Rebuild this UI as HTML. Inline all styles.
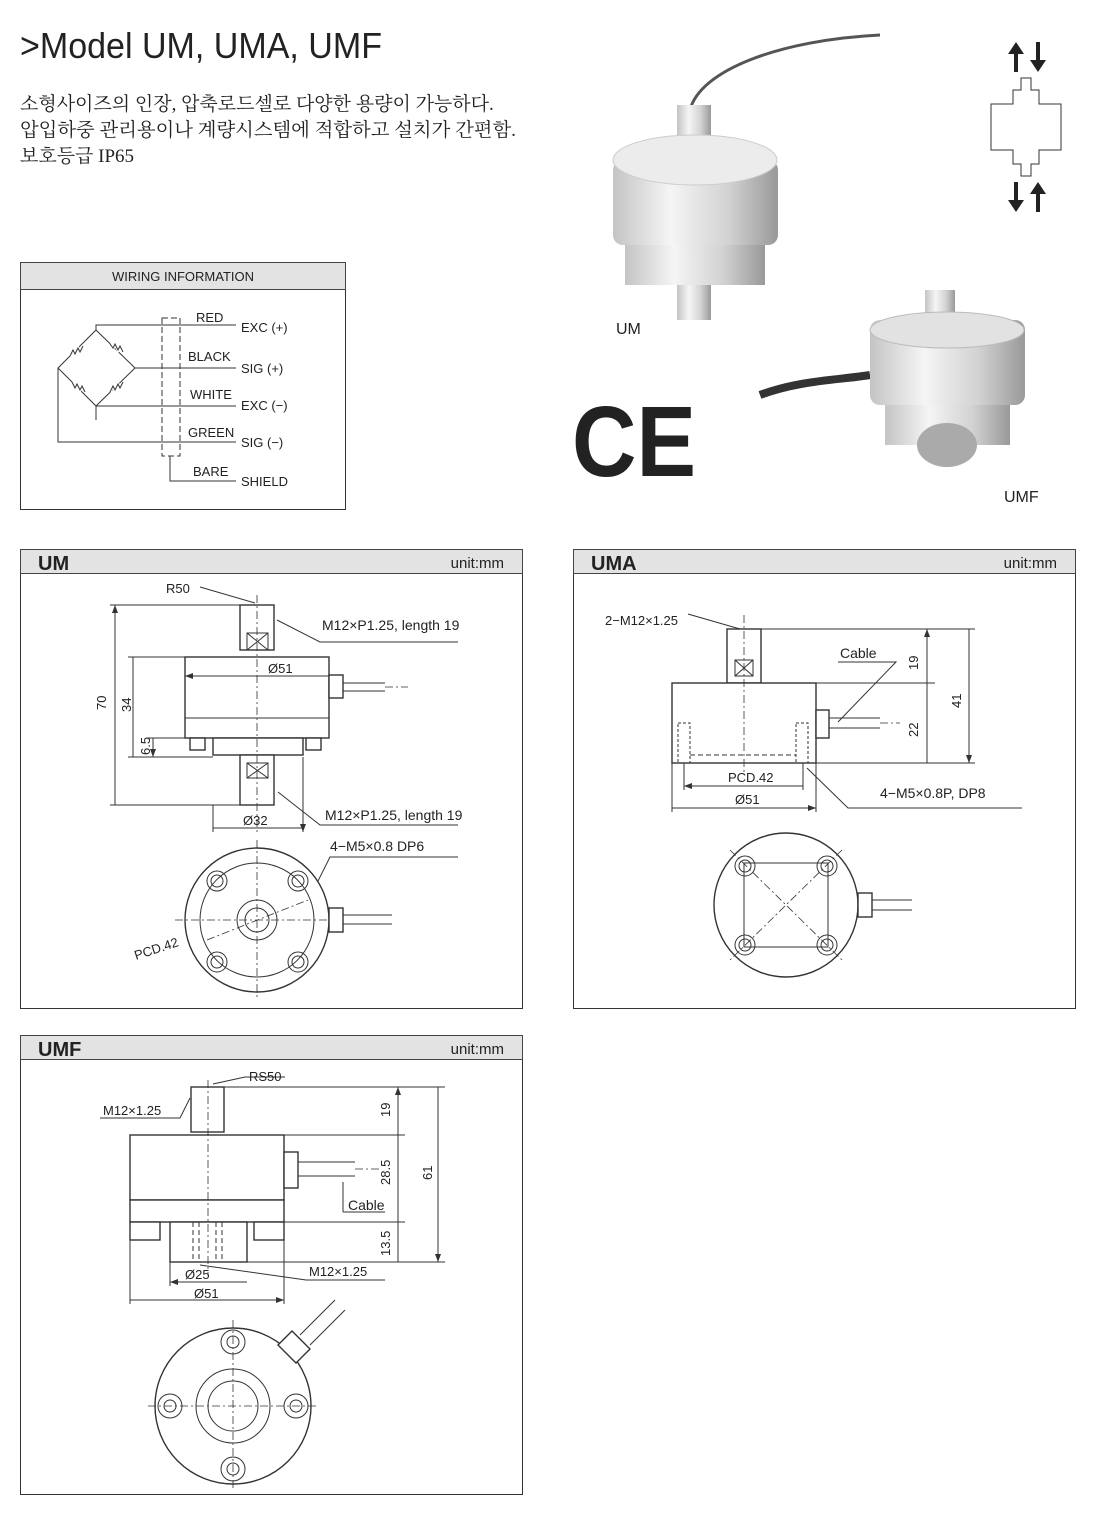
<!DOCTYPE html>
<html><head><meta charset="utf-8"><style>
html,body{margin:0;padding:0;background:#fff}
svg{display:block}
text{font-family:"Liberation Sans","Noto Sans CJK KR",sans-serif;fill:#222}
.k{font-family:"Liberation Serif","Noto Serif CJK SC",serif}
.s{font-size:13px}
.l{stroke:#333;stroke-width:1;fill:none}
.t{stroke:#333;stroke-width:1.4;fill:#fff}
.d{stroke:#333;stroke-width:0.8;stroke-dasharray:8 3 2 3;fill:none}
.hd{fill:#e3e3e3;stroke:#444}
</style></head><body>
<svg width="1103" height="1523" viewBox="0 0 1103 1523">
<defs>
<linearGradient id="m" x1="0" x2="1"><stop offset="0" stop-color="#c4c4c4"/><stop offset=".35" stop-color="#f5f5f5"/><stop offset=".7" stop-color="#d2d2d2"/><stop offset="1" stop-color="#999"/></linearGradient>
<marker id="a" markerWidth="8" markerHeight="6" refX="8" refY="3" orient="auto"><path d="M0,0L8,3L0,6z" fill="#333"/></marker>
<marker id="b" markerWidth="8" markerHeight="6" refX="0" refY="3" orient="auto"><path d="M8,0L0,3L8,6z" fill="#333"/></marker>
</defs>
<text x="20" y="58" font-size="36" textLength="362" lengthAdjust="spacingAndGlyphs">&gt;Model UM, UMA, UMF</text>
<text class="k" x="20" y="110" font-size="19">소형사이즈의 인장, 압축로드셀로 다양한 용량이 가능하다.</text>
<text class="k" x="20" y="136" font-size="19" textLength="496" lengthAdjust="spacingAndGlyphs">압입하중 관리용이나 계량시스템에 적합하고 설치가  간편함.</text>
<text class="k" x="20" y="162" font-size="19">보호등급 IP65</text>

<!-- photos -->
<path d="M690,110 C700,70 780,40 880,35" stroke="#555" stroke-width="3" fill="none"/>
<rect x="677" y="105" width="34" height="55" fill="url(#m)"/>
<rect x="613" y="160" width="165" height="85" rx="10" fill="url(#m)"/>
<ellipse cx="695" cy="160" rx="82" ry="25" fill="#ececec" stroke="#ccc"/>
<rect x="625" y="245" width="140" height="40" fill="url(#m)"/>
<rect x="677" y="285" width="34" height="35" fill="url(#m)"/>
<text x="616" y="334" font-size="16">UM</text>
<path d="M760,395 C800,380 840,380 870,375" stroke="#333" stroke-width="8" fill="none"/>
<rect x="925" y="290" width="30" height="30" fill="url(#m)"/>
<rect x="870" y="320" width="155" height="85" rx="10" fill="url(#m)"/>
<ellipse cx="947" cy="330" rx="77" ry="18" fill="#e2e2e2" stroke="#bbb"/>
<rect x="885" y="405" width="125" height="40" fill="url(#m)"/>
<ellipse cx="947" cy="445" rx="30" ry="22" fill="#aaa"/>
<text x="1004" y="502" font-size="16">UMF</text>
<text x="572" y="476" font-size="100" font-weight="bold" fill="#111" textLength="124" lengthAdjust="spacingAndGlyphs">CE</text>

<!-- arrows icon -->
<g fill="#222"><path d="M1016,42l-8,12h6v18h4v-18h6z"/><path d="M1038,72l-8,-12h6v-18h4v18h6z"/>
<path d="M1016,212l-8,-12h6v-18h4v18h6z"/><path d="M1038,182l-8,12h6v18h4v-18h6z"/></g>
<path d="M1021,78h10v12h8v14h22v46h-22v14h-8v12h-10v-12h-8v-14h-22v-46h22v-14h8z" class="l"/>

<!-- wiring -->
<rect x="20.5" y="262.5" width="325" height="247" class="l"/>
<rect x="20.5" y="262.5" width="325" height="27" class="hd"/>
<text x="183" y="281" font-size="13" text-anchor="middle">WIRING INFORMATION</text>
<path d="M96,330 L135,368 L96,406 L58,368 Z M96,330 L96,325 L162,325 M96,406 V420 M58,368 V442 H162 M135,368 H162 M96,406 H162" class="l"/>
<path d="M70,356l3,-6l2,4l3,-6l2,4l3,-6M110,344l3,4l2,-4l3,6l2,-4l3,6M72,382l3,6l2,-4l3,6l2,-4l3,6M110,392l3,-6l2,4l3,-6l2,4l3,-6" stroke="#fff" stroke-width="3" fill="none"/>
<path d="M70,356l3,-6l2,4l3,-6l2,4l3,-6M110,344l3,4l2,-4l3,6l2,-4l3,6M72,382l3,6l2,-4l3,6l2,-4l3,6M110,392l3,-6l2,4l3,-6l2,4l3,-6" class="l"/>
<rect x="162" y="318" width="18" height="138" class="l" stroke-dasharray="6 3"/>
<path d="M162,325H236M135,368H236M96,406H236M58,442H236M170,456V481H236" class="l"/>
<g class="s"><text x="196" y="322">RED</text><text x="188" y="361">BLACK</text><text x="190" y="399">WHITE</text><text x="188" y="437">GREEN</text><text x="193" y="476">BARE</text>
<text x="241" y="332">EXC (+)</text><text x="241" y="373">SIG (+)</text><text x="241" y="410">EXC (−)</text><text x="241" y="447">SIG (−)</text><text x="241" y="486">SHIELD</text></g>

<!-- UM -->
<rect x="20.5" y="549.5" width="502" height="459" class="l"/>
<rect x="20.5" y="549.5" width="502" height="24" class="hd"/>
<text x="38" y="570" font-size="20" font-weight="bold">UM</text>
<text x="504" y="568" font-size="15" text-anchor="end">unit:mm</text>
<rect x="240" y="605" width="34" height="45" class="t"/><rect x="247" y="633" width="21" height="17" class="l"/><path d="M247,633l21,17m0,-17l-21,17" class="l"/>
<rect x="185" y="657" width="144" height="81" class="t"/><path d="M185,718H329" class="l"/>
<rect x="213" y="738" width="90" height="17" class="t"/><rect x="190" y="738" width="15" height="12" class="t"/><rect x="306" y="738" width="15" height="12" class="t"/>
<rect x="240" y="755" width="34" height="50" class="t"/><rect x="247" y="763" width="21" height="15" class="l"/><path d="M247,763l21,15m0,-15l-21,15" class="l"/>
<path d="M257,595V835" class="d"/>
<rect x="329" y="675" width="14" height="23" class="t"/><path d="M343,683H385M343,691H385" class="l"/><path d="M385,687H408" class="d"/>
<path d="M115,605V805M133,657V757M153,738V757" class="l" marker-start="url(#b)" marker-end="url(#a)"/>
<path d="M110,605H240M128,657H185M128,757H213M110,805H240M148,738H190" class="l"/>
<path d="M185,676H329M213,828H303M213,805V832M303,757V832" class="l" marker-start="url(#b)" marker-end="url(#a)"/>
<text x="106" y="710" class="s" transform="rotate(-90 106 710)">70</text>
<text x="131" y="712" class="s" transform="rotate(-90 131 712)">34</text>
<text x="150" y="755" class="s" transform="rotate(-90 150 755)">6.5</text>
<text x="268" y="673" class="s">Ø51</text><text x="243" y="825" class="s">Ø32</text>
<path d="M200,587L255,603M277,620L320,642H458M278,792L320,825H458M312,893L330,857H458" class="l"/>
<text x="166" y="593" class="s">R50</text><text x="322" y="630" font-size="14">M12×P1.25, length 19</text>
<text x="325" y="820" font-size="14">M12×P1.25, length 19</text><text x="330" y="851" font-size="14">4−M5×0.8 DP6</text>
<circle cx="257" cy="920" r="72" class="t"/><circle cx="257" cy="920" r="57" class="l"/><circle cx="257" cy="920" r="20" class="l"/><circle cx="257" cy="920" r="12" class="l"/>
<g class="l"><circle cx="217" cy="881" r="10"/><circle cx="298" cy="881" r="10"/><circle cx="217" cy="962" r="10"/><circle cx="298" cy="962" r="10"/>
<circle cx="217" cy="881" r="6"/><circle cx="298" cy="881" r="6"/><circle cx="217" cy="962" r="6"/><circle cx="298" cy="962" r="6"/></g>
<path d="M257,840V1000M175,920H340M207,940L308,900" class="d"/>
<rect x="329" y="908" width="14" height="24" class="t"/><path d="M343,915H392M343,924H392" class="l"/>
<text x="136" y="960" class="s" transform="rotate(-18 136 960)">PCD.42</text>

<!-- UMA -->
<rect x="573.5" y="549.5" width="502" height="459" class="l"/>
<rect x="573.5" y="549.5" width="502" height="24" class="hd"/>
<text x="591" y="570" font-size="20" font-weight="bold">UMA</text>
<text x="1057" y="568" font-size="15" text-anchor="end">unit:mm</text>
<rect x="727" y="629" width="34" height="54" class="t"/><rect x="735" y="660" width="18" height="16" class="l"/><path d="M735,660l18,16m0,-16l-18,16" class="l"/>
<rect x="672" y="683" width="144" height="80" class="t"/>
<path d="M678,723h12v40h-12zM796,723h12v40h-12z" class="l" stroke-dasharray="3 2"/><path d="M690,755H796" class="l" stroke-dasharray="5 3"/>
<path d="M744,615V775" class="d"/>
<rect x="816" y="710" width="13" height="28" class="t"/><path d="M829,718H880M829,728H880" class="l"/><path d="M880,723H900" class="d"/>
<path d="M761,629H975M816,683H935M816,763H975" class="l"/>
<path d="M927,629V683M927,683V763M969,629V763" class="l" marker-start="url(#b)" marker-end="url(#a)"/>
<text x="918" y="670" class="s" transform="rotate(-90 918 670)">19</text>
<text x="918" y="737" class="s" transform="rotate(-90 918 737)">22</text>
<text x="961" y="708" class="s" transform="rotate(-90 961 708)">41</text>
<path d="M684,786H803M672,808H816" class="l" marker-start="url(#b)" marker-end="url(#a)"/>
<path d="M684,763V790M803,763V790M672,763V812M816,763V812" class="l"/>
<text x="728" y="782" class="s">PCD.42</text><text x="735" y="804" class="s">Ø51</text>
<path d="M688,614L740,629M838,662H896L838,722M807,768L848,808H1022" class="l"/>
<text x="605" y="625" class="s">2−M12×1.25</text><text x="840" y="658" font-size="14">Cable</text><text x="880" y="798" font-size="14">4−M5×0.8P, DP8</text>
<circle cx="786" cy="905" r="72" class="t"/><rect x="744" y="863" width="84" height="84" class="l"/>
<g class="l"><circle cx="745" cy="866" r="10"/><circle cx="827" cy="866" r="10"/><circle cx="745" cy="945" r="10"/><circle cx="827" cy="945" r="10"/>
<circle cx="745" cy="866" r="6"/><circle cx="827" cy="866" r="6"/><circle cx="745" cy="945" r="6"/><circle cx="827" cy="945" r="6"/></g>
<path d="M730,850L842,960M842,850L730,960" class="d"/>
<rect x="858" y="893" width="14" height="24" class="t"/><path d="M872,900H912M872,910H912" class="l"/>

<!-- UMF -->
<rect x="20.5" y="1035.5" width="502" height="459" class="l"/>
<rect x="20.5" y="1035.5" width="502" height="24" class="hd"/>
<text x="38" y="1056" font-size="20" font-weight="bold">UMF</text>
<text x="504" y="1054" font-size="15" text-anchor="end">unit:mm</text>
<rect x="191" y="1087" width="33" height="45" class="t"/>
<rect x="130" y="1135" width="154" height="65" class="t"/><rect x="130" y="1200" width="154" height="22" class="t"/>
<rect x="130" y="1222" width="30" height="18" class="t"/><rect x="254" y="1222" width="30" height="18" class="t"/>
<rect x="170" y="1222" width="77" height="40" class="t"/>
<path d="M193,1222V1262M199,1222V1262M216,1222V1262M222,1222V1262" class="l" stroke-dasharray="5 3"/>
<path d="M208,1080V1275" class="d"/>
<rect x="284" y="1152" width="14" height="36" class="t"/><path d="M298,1162H355M298,1176H355" class="l"/><path d="M355,1169H380" class="d"/>
<path d="M224,1087H445M284,1135H405M284,1222H405M247,1262H445" class="l"/>
<path d="M398,1087V1135M398,1135V1222M398,1222V1262M438,1087V1262" class="l" marker-start="url(#b)" marker-end="url(#a)"/>
<text x="390" y="1117" class="s" transform="rotate(-90 390 1117)">19</text>
<text x="390" y="1185" class="s" transform="rotate(-90 390 1185)">28.5</text>
<text x="390" y="1256" class="s" transform="rotate(-90 390 1256)">13.5</text>
<text x="432" y="1180" class="s" transform="rotate(-90 432 1180)">61</text>
<path d="M170,1282H247M130,1300H284" class="l" marker-start="url(#b)" marker-end="url(#a)"/>
<path d="M130,1240V1304M284,1240V1304M170,1262V1286" class="l"/>
<text x="185" y="1279" class="s">Ø25</text><text x="194" y="1298" class="s">Ø51</text>
<path d="M213,1084L245,1077H285M100,1118H180L190,1098M200,1265L306,1280H385M343,1212V1182M343,1212H385" class="l"/>
<text x="249" y="1081" class="s">RS50</text><text x="103" y="1115" class="s">M12×1.25</text>
<text x="309" y="1276" class="s">M12×1.25</text><text x="348" y="1210" font-size="14">Cable</text>
<circle cx="233" cy="1406" r="78" class="t"/><circle cx="233" cy="1406" r="37" class="l"/><circle cx="233" cy="1406" r="25" class="l"/>
<g class="l"><circle cx="233" cy="1342" r="12"/><circle cx="170" cy="1406" r="12"/><circle cx="296" cy="1406" r="12"/><circle cx="233" cy="1469" r="12"/>
<circle cx="233" cy="1342" r="6"/><circle cx="170" cy="1406" r="6"/><circle cx="296" cy="1406" r="6"/><circle cx="233" cy="1469" r="6"/></g>
<path d="M233,1320V1490M148,1406H318" class="d"/>
<path d="M278,1345l14,-14l18,18l-14,14z" class="t"/><path d="M300,1335L335,1300M310,1345L345,1310" class="l"/>
</svg>
</body></html>
